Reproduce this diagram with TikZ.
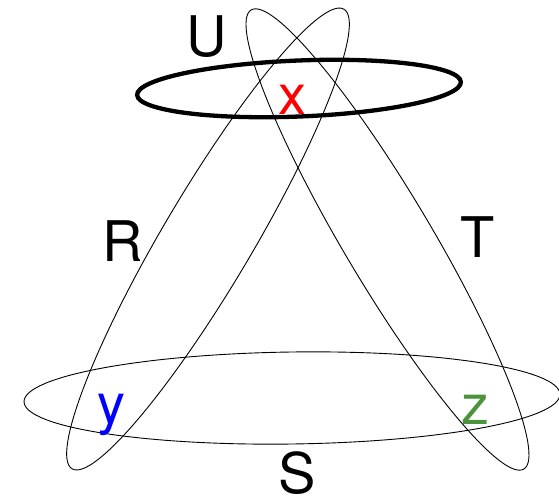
\documentclass[tikz,border=0pt]{standalone}
\usepackage{fontspec}
\setmainfont{TeX Gyre Heros}
\usepackage{tikz}
\usetikzlibrary{positioning}

\definecolor{setgreen}{RGB}{76,148,60}

\begin{document}
\begin{tikzpicture}[
  x=1pt, y=1pt,
  setline/.style={line width=0.9pt, black},
  boldset/.style={line width=4.3pt, black},
  setname/.style={font=\fontsize{56}{60}\selectfont, inner sep=0pt, anchor=base},
]
\useasboundingbox (0,0) rectangle (559,502);

% --- Ellipse centres ---
\coordinate (Uc) at (299,413.5);
\coordinate (Sc) at (292,104);
\coordinate (Rc) at (208,263);
\coordinate (Tc) at (387.5,262.5);

% --- Tilted sets R and T ---
\draw[setline, rotate around={59.4:(Rc)}] (Rc) ellipse [x radius=267pt, y radius=45pt];
\draw[setline, rotate around={-59.3:(Tc)}] (Tc) ellipse [x radius=267pt, y radius=44pt];

% --- Flat sets S and U ---
\draw[setline, rotate around={0.8:(Sc)}] (Sc) ellipse [x radius=268pt, y radius=46pt];
\draw[boldset, rotate around={2.3:(Uc)}] (Uc) ellipse [x radius=162pt, y radius=28pt];

% --- Set names ---
\node[setname] (labU) at (207,445) {U};
\node[setname] (labR) at (123,240) {R};
\node[setname] (labT) at (478,244) {T};
\node[setname] (labS) at (297,8) {S};

% --- Elements ---
\node[setname, red] (elx) at (292,387) {x};
\node[setname, blue] (ely) at (111,78) {y};
\node[setname, setgreen] (elz) at (475,77) {z};

\end{tikzpicture}
\end{document}
